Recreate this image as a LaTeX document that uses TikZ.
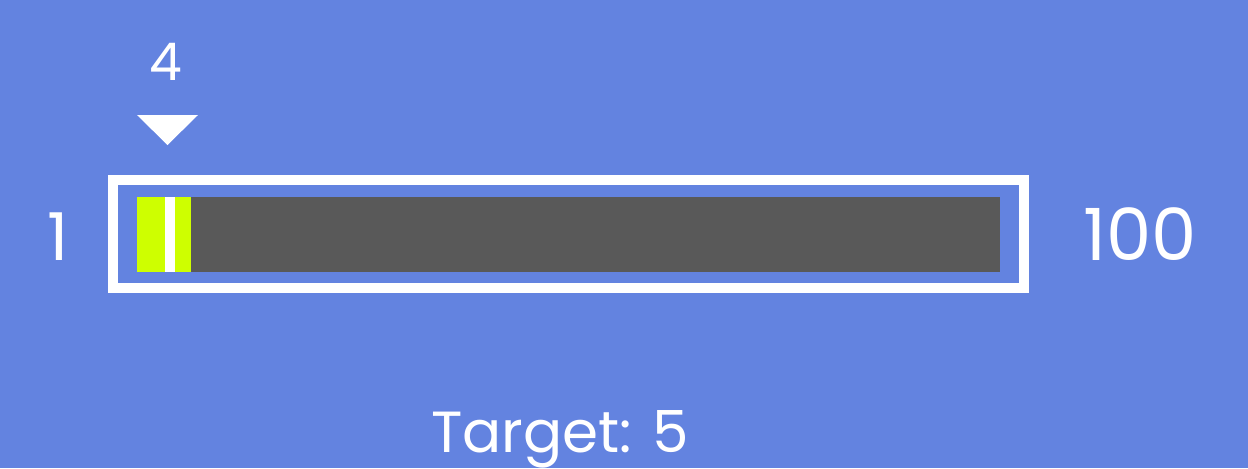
\documentclass[tikz,border=0pt]{standalone}
\usepackage{fontspec}
\setmainfont{Poppins}
\definecolor{bg}{RGB}{99,131,224}
\definecolor{barc}{RGB}{89,89,89}
\definecolor{lime}{RGB}{206,255,0}
\begin{document}
\begin{tikzpicture}[x=0.5pt,y=-0.5pt,
  lbl/.style={text=white,inner sep=0pt,anchor=base}]
\fill[bg] (0,0) rectangle (1248,468);
\useasboundingbox (0,0) rectangle (1248,468);
% frame
\draw[white,line width=5pt] (113,179.5) rectangle (1023.5,288);
% bar
\fill[barc] (137,197) rectangle (1000,272);
\fill[lime] (137,197) rectangle (191,272);
\fill[white] (165,197) rectangle (175,272);
% marker
\fill[white] (137,115) -- (198,115) -- (167.5,145) -- cycle;
\node[lbl,font=\fontsize{26}{26}\selectfont] (four) at (166,80) {4};
\node[lbl,font=\fontsize{33}{33}\selectfont] (one) at (58,260) {1};
\node[lbl,font=\fontsize{36}{36}\selectfont] (hundred) at (1140,260) {100};
\node[lbl,font=\fontsize{29}{29}\selectfont] (target) at (560,452) {Target: 5};
\end{tikzpicture}
\end{document}
